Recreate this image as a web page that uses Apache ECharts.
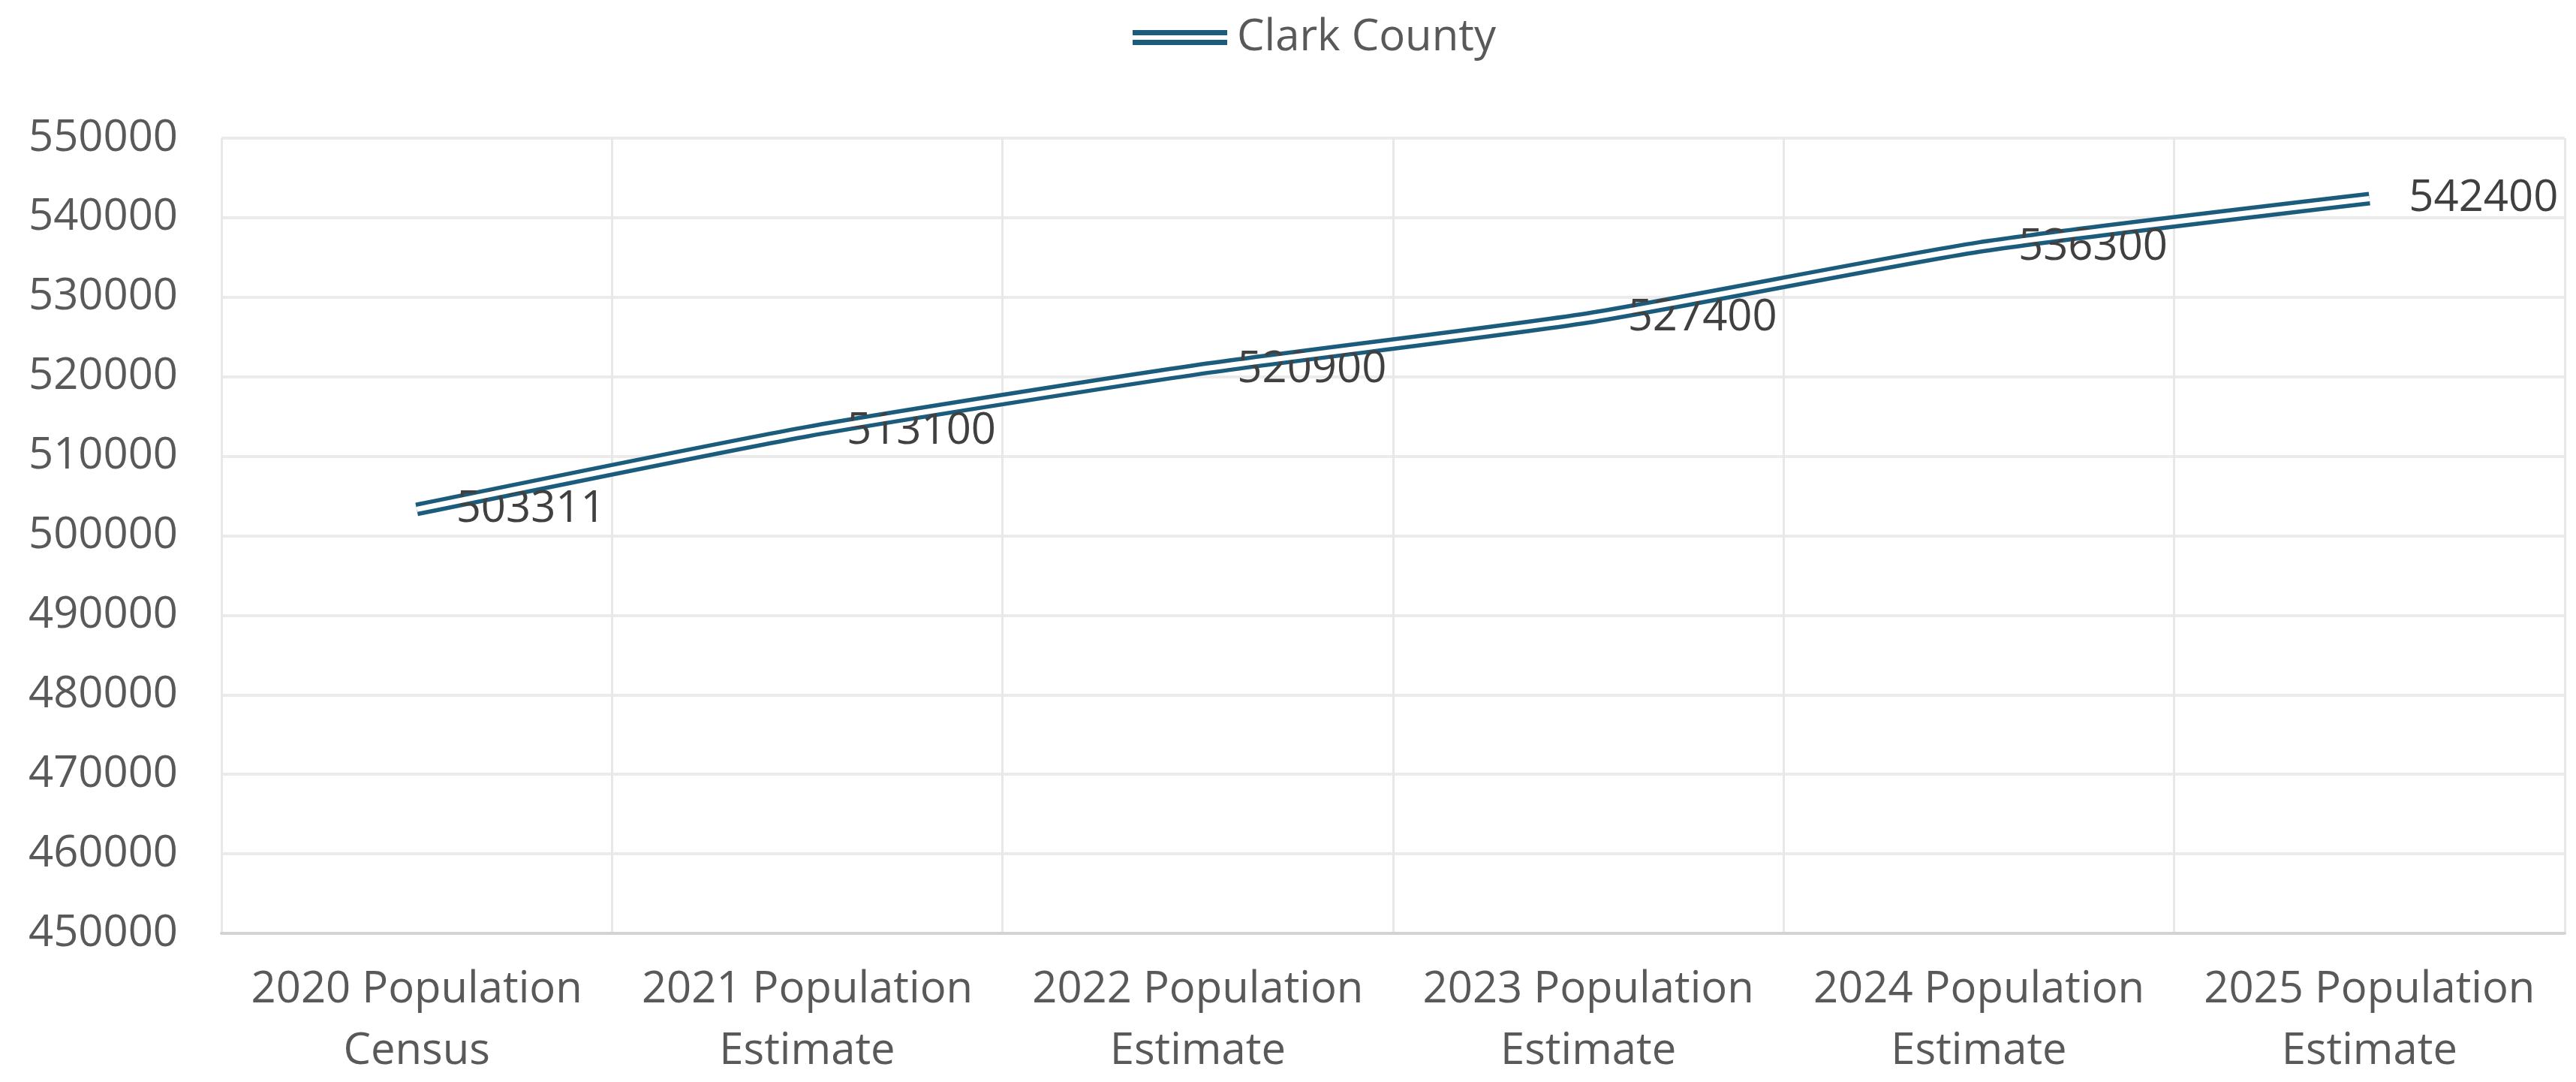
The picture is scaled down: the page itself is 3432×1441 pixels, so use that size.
<!DOCTYPE html>
<html>
<head>
<meta charset="utf-8">
<script src="https://cdn.jsdelivr.net/npm/echarts@6/dist/echarts.min.js"></script>
<style>
html,body{margin:0;padding:0;background:#fff;}
#chart{width:3432px;height:1441px;}
</style>
</head>
<body>
<div id="chart"></div>
<script>
const categories = [
  "2020 Population\nCensus",
  "2021 Population\nEstimate",
  "2022 Population\nEstimate",
  "2023 Population\nEstimate",
  "2024 Population\nEstimate",
  "2025 Population\nEstimate"
];
const clarkCounty = [503311, 513100, 520900, 527400, 536300, 542400];
const seriesName = "Clark County";
const yMin = 450000, yMax = 550000, yStep = 10000;

const FONT = "'Open Sans', 'Noto Sans', sans-serif";
const LINE = "#1b5c7c";

const chart = echarts.init(document.getElementById('chart'), null, {renderer: 'canvas'});
chart.setOption({
  animation: false,
  backgroundColor: '#ffffff',
  legend: {
    data: [seriesName],
    left: 1504,
    top: 16,
    itemWidth: 126,
    itemHeight: 20,
    icon: 'path://M0,0H126V7H0Z M0,13H126V20H0Z',
    itemStyle: {color: LINE, opacity: 1, borderWidth: 0},
    textStyle: {fontFamily: FONT, fontSize: 58, color: '#595959', padding: [0, 0, 0, 8]}
  },
  grid: {left: 295, right: 15, top: 184, bottom: 193, containLabel: false},
  xAxis: {
    type: 'category',
    data: categories,
    boundaryGap: true,
    axisLine: {show: true, lineStyle: {color: '#d3d3d3', width: 4}},
    axisTick: {show: false},
    splitLine: {show: true, lineStyle: {color: '#e8e8e8', width: 3}},
    axisLabel: {
      fontFamily: FONT, fontSize: 58, color: '#595959',
      lineHeight: 82, margin: 34, interval: 0
    }
  },
  yAxis: {
    type: 'value',
    min: yMin, max: yMax, interval: yStep,
    axisLine: {show: false},
    axisTick: {show: false},
    splitLine: {show: true, lineStyle: {color: '#ebebeb', width: 4}},
    axisLabel: {
      fontFamily: FONT, fontSize: 58, color: '#595959', margin: 58,
      formatter: function (v) { return String(v); }
    }
  },
  series: [
    {
      name: seriesName,
      type: 'line',
      data: clarkCounty,
      smooth: 0.2,
      showSymbol: true,
      symbol: 'circle',
      symbolSize: 1,
      itemStyle: {color: 'rgba(0,0,0,0)'},
      lineStyle: {color: LINE, width: 18},
      label: {
        show: true, position: 'right', distance: 52,
        fontFamily: FONT, fontSize: 58, color: '#404040',
        formatter: function (p) { return String(p.value); }
      },
      z: 2
    },
    {
      name: seriesName + ' inner',
      type: 'line',
      data: clarkCounty,
      smooth: 0.2,
      showSymbol: false,
      symbol: 'none',
      lineStyle: {color: '#ffffff', width: 7},
      z: 3
    }
  ]
});
</script>
</body>
</html>
